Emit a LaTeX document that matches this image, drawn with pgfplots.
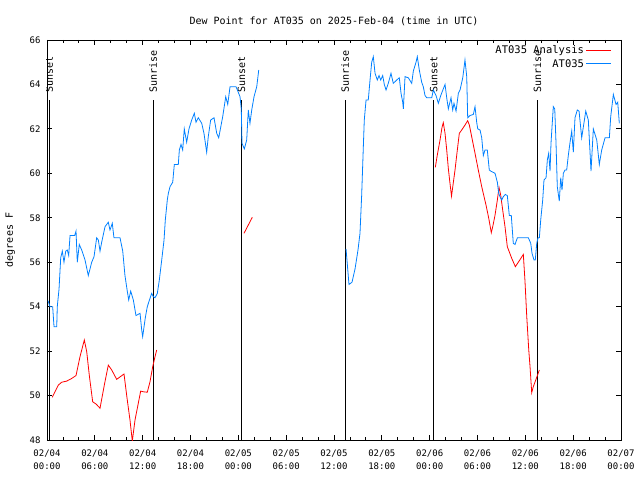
\documentclass[border=0pt]{standalone}
\usepackage{fontspec}
\setmainfont{DejaVu Sans Mono}
\usepackage{pgfplots}
\pgfplotsset{compat=1.18}
\definecolor{obsblue}{RGB}{0,128,255}
\definecolor{anred}{RGB}{255,0,0}
\begin{document}
\begin{tikzpicture}
\useasboundingbox (-47pt,-40pt) rectangle (593pt,440pt);
\begin{axis}[
  at={(0pt,0pt)}, anchor=south west,
  scale only axis, width=574pt, height=400pt,
  xmin=0, xmax=72, ymin=48, ymax=66,
  xtick={0,6,...,72},
  xticklabels={{02/04\\00:00},{02/04\\06:00},{02/04\\12:00},{02/04\\18:00},{02/05\\00:00},{02/05\\06:00},{02/05\\12:00},{02/05\\18:00},{02/06\\00:00},{02/06\\06:00},{02/06\\12:00},{02/06\\18:00},{02/07\\00:00}},
  minor x tick num=2,
  ytick={48,50,...,66},
  tick align=inside,
  major tick length=5pt, minor tick length=3pt,
  tick style={black, line width=0.8pt},
  axis line style={line width=0.8pt},
  /pgf/number format/assume math mode=true,
  ticklabel style={font=\fontsize{9}{12.5}\selectfont},
  xticklabel style={align=center, yshift=-6.5pt},
  yticklabel style={xshift=-3pt},
  title={Dew Point for AT035 on 2025-Feb-04 (time in UTC)},
  title style={at={(0.5,1)}, anchor=center, yshift=13pt, font=\fontsize{10}{12}\selectfont},
  ylabel={degrees F},
  ylabel style={at={(axis description cs:-0.064,0.5)}, anchor=center, font=\fontsize{10}{12}\selectfont},
  unbounded coords=jump,
  legend plot pos=right,
  legend cell align=right,
  legend style={at={(1,1)}, anchor=north east, xshift=-8pt, yshift=-2.5pt, draw=none, fill=none,
    font=\fontsize{10.5}{12}\selectfont, row sep=0pt, inner sep=1pt},
  legend image code/.code={\draw[#1] (0pt,0pt) -- (25pt,0pt);},
  clip=true,
]
% sunrise / sunset markers
\addplot[black, line width=0.8pt, forget plot] coordinates {(0.29,48) (0.29,63.3)};
\addplot[black, line width=0.8pt, forget plot] coordinates {(13.3,48) (13.3,63.3)};
\addplot[black, line width=0.8pt, forget plot] coordinates {(24.4,48) (24.4,63.3)};
\addplot[black, line width=0.8pt, forget plot] coordinates {(37.4,48) (37.4,63.3)};
\addplot[black, line width=0.8pt, forget plot] coordinates {(48.5,48) (48.5,63.3)};
\addplot[black, line width=0.8pt, forget plot] coordinates {(61.5,48) (61.5,63.3)};
\node[rotate=90, anchor=west, inner sep=1pt, font=\fontsize{10}{11}\selectfont] at (axis cs:0.29,63.6) {Sunset};
\node[rotate=90, anchor=west, inner sep=1pt, font=\fontsize{10}{11}\selectfont] at (axis cs:13.3,63.6) {Sunrise};
\node[rotate=90, anchor=west, inner sep=1pt, font=\fontsize{10}{11}\selectfont] at (axis cs:24.4,63.6) {Sunset};
\node[rotate=90, anchor=west, inner sep=1pt, font=\fontsize{10}{11}\selectfont] at (axis cs:37.4,63.6) {Sunrise};
\node[rotate=90, anchor=west, inner sep=1pt, font=\fontsize{10}{11}\selectfont] at (axis cs:48.5,63.6) {Sunset};
\node[rotate=90, anchor=west, inner sep=1pt, font=\fontsize{10}{11}\selectfont] at (axis cs:61.5,63.6) {Sunrise};
% analysis
\addplot[anred, line width=0.8pt] coordinates {
(0.66,49.92) (1.00,50.17) (1.42,50.47) (1.84,50.6) (2.47,50.65) (3.10,50.77) (3.64,50.9)
(4.14,51.75) (4.68,52.5) (4.98,51.98) (5.31,50.9) (5.73,49.72) (6.15,49.62) (6.65,49.43)
(7.19,50.47) (7.69,51.37) (8.12,51.15) (8.74,50.73) (9.66,50.97) (10.07,49.8) (10.41,48.9)
(10.70,47.95) (11.04,48.9) (11.45,49.65) (11.75,50.2) (12.08,50.17) (12.58,50.15) (12.92,50.62)
(13.26,51.3) (13.55,51.75) (13.76,52.05)
(20,nan)
(24.71,57.3) (25.75,58.02)
(40,nan)
(48.71,60.27) (48.96,60.83) (49.30,61.5) (49.55,62.07) (49.71,62.28) (49.93,61.8) (50.14,61.05)
(50.34,60.22) (50.55,59.55) (50.74,58.97) (51.18,60.15) (51.47,61.05) (51.72,61.8) (52.02,61.95)
(52.43,62.17) (52.77,62.37) (52.98,62.17) (53.27,61.65) (53.69,60.9) (54.10,60.15) (54.53,59.4)
(55.07,58.57) (55.41,57.98) (55.73,57.33) (55.91,57.6) (56.20,58.12) (56.49,58.8) (56.70,59.37)
(56.91,59.02) (57.16,58.35) (57.45,57.6) (57.74,56.7) (58.30,56.17) (58.75,55.8) (59.25,56.07)
(59.75,56.35) (59.96,55.13) (60.18,53.55) (60.43,52.05) (60.59,51.3) (60.80,50.13) (61.00,50.4)
(61.34,50.73) (61.76,51.15)
};
\addlegendentry{AT035 Analysis}
% observations
\addplot[obsblue, line width=0.8pt] coordinates {
(0.13,54.27) (0.38,54.0) (0.71,54.0) (0.88,53.1) (1.22,53.1) (1.29,54.0) (1.51,54.8) (1.72,56.2)
(1.92,56.5) (2.13,56.0) (2.35,56.5) (2.55,56.55) (2.72,56.3) (2.89,57.2) (3.47,57.2) (3.64,57.4)
(3.80,56.0) (4.05,56.8) (4.35,56.55) (4.77,56.1) (5.18,55.4) (5.61,56.0) (5.90,56.25) (6.23,57.1)
(6.44,57.0) (6.65,56.5) (6.86,56.9) (7.28,57.6) (7.69,57.8) (7.90,57.45) (8.19,57.75) (8.40,57.1)
(9.16,57.1) (9.50,56.5) (9.78,55.4) (10.07,54.7) (10.25,54.3) (10.50,54.7) (10.83,54.3) (11.16,53.6)
(11.67,53.7) (11.88,52.95) (12.00,52.65) (12.33,53.5) (12.58,54.0) (13.13,54.6) (13.33,54.45)
(13.55,54.4) (13.84,54.6) (14.09,55.2) (14.39,56.1) (14.68,57.0) (14.84,57.9) (15.09,58.8)
(15.22,59.1) (15.43,59.4) (15.77,59.6) (15.97,60.4) (16.47,60.4) (16.60,61.05) (16.81,61.3)
(17.02,61.05) (17.22,62.0) (17.52,61.4) (17.81,62.0) (18.15,62.4) (18.48,62.7) (18.69,62.3)
(18.98,62.5) (19.41,62.25) (19.69,61.8) (20.03,60.95) (20.23,61.65) (20.53,62.4) (20.95,62.5)
(21.29,61.8) (21.54,61.6) (22.04,62.55) (22.42,63.45) (22.67,63.1) (22.96,63.9) (23.71,63.9)
(24.21,63.45) (24.37,62.9) (24.46,61.35) (24.75,61.1) (25.05,61.5) (25.25,62.85) (25.46,62.25)
(25.68,62.85) (25.97,63.45) (26.31,63.9) (26.56,64.65)
(30,nan)
(37.51,56.6) (37.88,55.0) (38.26,55.1) (38.64,55.7) (39.01,56.55) (39.26,57.3) (39.47,59.0)
(39.68,61.2) (39.80,62.4) (40.02,63.3) (40.30,63.3) (40.52,64.2) (40.73,65.0) (40.93,65.25)
(41.15,64.5) (41.43,64.2) (41.65,64.4) (41.86,64.2) (42.11,64.4) (42.31,64.0) (42.53,63.75)
(42.81,64.05) (43.15,64.5) (43.44,64.05) (43.87,64.2) (44.19,64.3) (44.41,63.6) (44.62,63.2)
(44.70,62.9) (44.91,64.35) (45.32,64.3) (45.75,64.05) (45.95,64.6) (46.29,65.0) (46.45,65.25)
(46.70,64.65) (47.00,64.1) (47.20,63.9) (47.42,63.5) (47.63,63.4) (48.26,63.4) (48.46,63.75)
(48.80,63.5) (49.09,63.15) (49.39,63.5) (49.71,63.8) (49.93,64.0) (50.14,63.4) (50.34,62.9)
(50.68,63.4) (50.89,62.85) (51.05,63.15) (51.31,62.8) (51.60,63.6) (51.81,63.75) (52.15,64.3)
(52.43,65.1) (52.65,64.35) (52.77,62.5) (53.06,62.6) (53.48,62.65) (53.69,63.0) (53.90,62.3)
(54.03,62.0) (54.32,61.95) (54.53,61.6) (54.73,60.8) (54.94,61.05) (55.23,61.05) (55.48,60.15)
(55.66,60.1) (56.20,60.0) (56.49,59.6) (56.66,59.1) (56.82,58.95) (57.04,58.8) (57.24,58.95)
(57.49,59.05) (57.74,59.0) (57.99,58.1) (58.24,58.1) (58.49,56.85) (58.71,56.8) (59.00,57.1)
(60.38,57.1) (60.68,56.85) (60.84,56.4) (61.09,56.1) (61.25,56.1) (61.43,56.85) (61.59,57.1)
(61.76,57.1) (61.93,57.9) (62.18,58.8) (62.34,59.7) (62.60,59.8) (62.76,60.6) (62.93,60.9)
(63.10,60.1) (63.22,61.35) (63.35,62.1) (63.51,63.0) (63.69,62.9) (63.85,61.35) (64.01,59.4)
(64.26,58.75) (64.44,59.8) (64.60,59.25) (64.77,60.0) (64.98,60.15) (65.19,60.15) (65.39,60.8)
(65.61,61.4) (65.82,61.9) (66.02,60.95) (66.23,62.5) (66.52,62.85) (66.74,62.8) (67.07,61.6)
(67.58,62.8) (67.90,62.4) (68.24,60.1) (68.53,62.0) (68.96,61.5) (69.28,60.4) (69.58,61.05)
(70.00,61.6) (70.54,61.6) (70.71,62.55) (71.04,63.55) (71.38,63.1) (71.59,63.2) (71.79,62.25)
};
\addlegendentry{AT035}
\end{axis}
\end{tikzpicture}
\end{document}
